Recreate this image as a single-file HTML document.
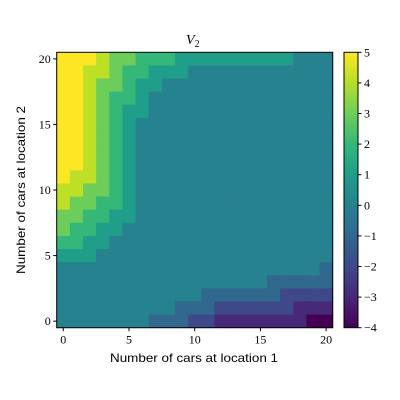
<!DOCTYPE html>
<html><head><meta charset="utf-8"><style>
body{margin:0;background:#fff;width:400px;height:400px;overflow:hidden}
svg{display:block}
.tk{font-family:"Liberation Serif",serif;font-size:12px;fill:#000}
.lb{font-family:"Liberation Sans",sans-serif;font-size:12px;fill:#000}
</style></head><body>
<svg id="c" width="400" height="400">
<defs><linearGradient id="vir" x1="0" y1="1" x2="0" y2="0">
<stop offset="0" stop-color="#440154"/><stop offset="0.111" stop-color="#482878"/><stop offset="0.222" stop-color="#3e4989"/><stop offset="0.333" stop-color="#31688e"/><stop offset="0.444" stop-color="#26828e"/><stop offset="0.556" stop-color="#1f9e89"/><stop offset="0.667" stop-color="#35b779"/><stop offset="0.778" stop-color="#6ece58"/><stop offset="0.889" stop-color="#b5de2b"/><stop offset="1" stop-color="#fde725"/></linearGradient></defs>
</svg>
<script>
// rows listed from y=20 (top) down to y=0; each row has values for x=0..20
const rowLabels=[20,19,18,17,16,15,14,13,12,11,10,9,8,7,6,5,4,3,2,1,0];
const valueRows=[
"5 5 5 4 3 3 2 2 2 1 1 1 1 1 1 1 1 1 0 0 0",
"5 5 4 4 3 2 2 1 1 1 0 0 0 0 0 0 0 0 0 0 0",
"5 5 4 3 3 2 1 1 0 0 0 0 0 0 0 0 0 0 0 0 0",
"5 5 4 3 2 2 1 0 0 0 0 0 0 0 0 0 0 0 0 0 0",
"5 5 4 3 2 1 1 0 0 0 0 0 0 0 0 0 0 0 0 0 0",
"5 5 4 3 2 1 0 0 0 0 0 0 0 0 0 0 0 0 0 0 0",
"5 5 4 3 2 1 0 0 0 0 0 0 0 0 0 0 0 0 0 0 0",
"5 5 4 3 2 1 0 0 0 0 0 0 0 0 0 0 0 0 0 0 0",
"5 5 4 3 2 1 0 0 0 0 0 0 0 0 0 0 0 0 0 0 0",
"5 4 4 3 2 1 0 0 0 0 0 0 0 0 0 0 0 0 0 0 0",
"4 4 3 3 2 1 0 0 0 0 0 0 0 0 0 0 0 0 0 0 0",
"4 3 3 2 2 1 0 0 0 0 0 0 0 0 0 0 0 0 0 0 0",
"3 3 2 2 1 1 0 0 0 0 0 0 0 0 0 0 0 0 0 0 0",
"3 2 2 1 1 0 0 0 0 0 0 0 0 0 0 0 0 0 0 0 0",
"2 2 1 1 0 0 0 0 0 0 0 0 0 0 0 0 0 0 0 0 0",
"1 1 1 0 0 0 0 0 0 0 0 0 0 0 0 0 0 0 0 0 0",
"0 0 0 0 0 0 0 0 0 0 0 0 0 0 0 0 0 0 0 0 -1",
"0 0 0 0 0 0 0 0 0 0 0 0 0 0 0 0 -1 -1 -1 -1 -1",
"0 0 0 0 0 0 0 0 0 0 0 -1 -1 -1 -1 -1 -1 -2 -2 -2 -2",
"0 0 0 0 0 0 0 0 0 -1 -1 -1 -2 -2 -2 -2 -2 -2 -3 -3 -3",
"0 0 0 0 0 0 0 -1 -1 -1 -2 -2 -3 -3 -3 -3 -3 -3 -3 -4 -4"];
const xTicks=[0,5,10,15,20];
const yTicks=[0,5,10,15,20];
const cbTicks=[5,4,3,2,1,0,-1,-2,-3,-4];
const cmap={"5":"#fde725","4":"#bddf26","3":"#6ccd5a","2":"#35b779","1":"#1f9e89","0":"#26828e","-1":"#31688e","-2":"#3e4989","-3":"#482878","-4":"#440154"};
const L=56.7,R=332.7,T=52.3,B=327.7,N=21,cw=(R-L)/N,ch=(B-T)/N;
const xs=i=>L+cw*(i+0.5), ys=j=>B-ch*(j+0.5);
const cbL=344,cbW=14,cbT=52.3,cbB=327.7,vmin=-4,vmax=5;
const cy=v=>cbB-(v-vmin)/(vmax-vmin)*(cbB-cbT);
const svg=document.getElementById('c'),NS='http://www.w3.org/2000/svg';
function mk(t,a,p){const e=document.createElementNS(NS,t);for(const k in a)e.setAttribute(k,a[k]);(p||svg).appendChild(e);return e;}
const g=mk('g',{});


valueRows.forEach((row,ri)=>{const j=rowLabels[ri];row.split(' ').forEach((v,i)=>{
 const r=mk('rect',{x:(xs(i)-cw/2).toFixed(2),y:(ys(j)-ch/2).toFixed(2),width:(cw+0.4).toFixed(2),height:(ch+0.4).toFixed(2),fill:cmap[v]},g);
 
 });});
const fr=mk('rect',{x:L,y:T,width:R-L,height:B-T,fill:'none',stroke:'#000','stroke-width':1});


xTicks.forEach(v=>{mk('line',{x1:xs(v),x2:xs(v),y1:B,y2:B+3.5,stroke:'#000'});
 const t=mk('text',{x:xs(v),y:B+16,'text-anchor':'middle',class:'tk'});t.textContent=v;
 
 });
yTicks.forEach(v=>{mk('line',{x1:L-3.5,x2:L,y1:ys(v),y2:ys(v),stroke:'#000'});
 const t=mk('text',{x:L-6,y:ys(v)+4,'text-anchor':'end',class:'tk'});t.textContent=v;
 
 });
const cb=mk('rect',{x:cbL,y:cbT,width:cbW,height:cbB-cbT,fill:'url(#vir)',stroke:'#000','stroke-width':1});


cbTicks.forEach(v=>{mk('line',{x1:cbL+cbW,x2:cbL+cbW+3.5,y1:cy(v),y2:cy(v),stroke:'#000'});
 const t=mk('text',{x:cbL+cbW+6,y:cy(v)+4,class:'tk'});t.textContent=(v<0?'\u2212'+(-v):v);
 
 });
</script>
<svg style="position:absolute;left:0;top:0" width="400" height="400">
<text x="186" y="44" style="font-family:'Liberation Serif',serif;font-style:italic;font-size:14px">V<tspan font-size="10" dy="3" font-style="normal">2</tspan></text>
<text class="lb" x="110" y="362" textLength="168" lengthAdjust="spacingAndGlyphs">Number of cars at location 1</text>
<text class="lb" transform="translate(25,274) rotate(-90)" textLength="168" lengthAdjust="spacingAndGlyphs">Number of cars at location 2</text>
</svg>
</body></html>
